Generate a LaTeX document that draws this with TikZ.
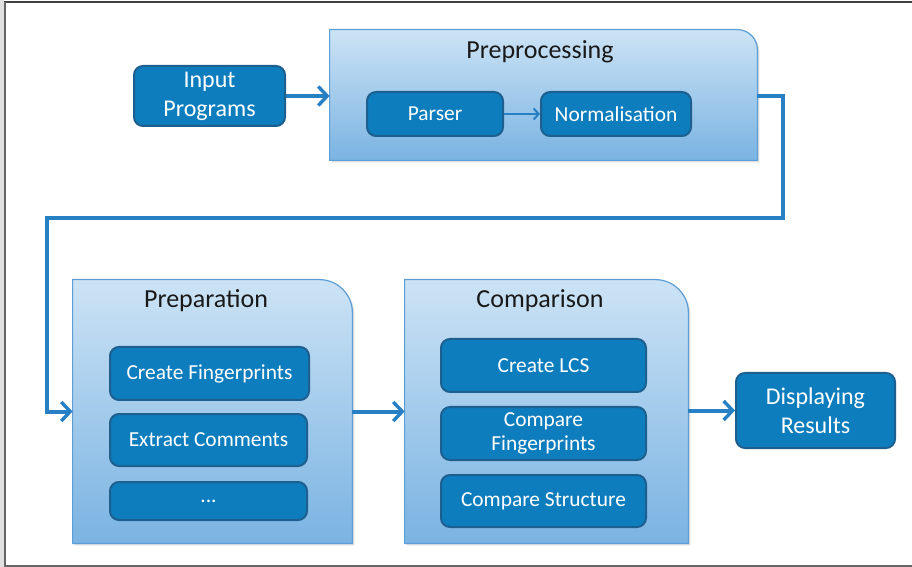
\documentclass[tikz,border=0pt]{standalone}
\usepackage{fontspec}
\setmainfont{Carlito}
\usetikzlibrary{arrows.meta,calc}

\definecolor{boxfill}{HTML}{0E7DBE}
\definecolor{boxline}{HTML}{1D5F8E}
\definecolor{paneltop}{HTML}{CCE3F5}
\definecolor{panelbot}{HTML}{7AB3E2}
\definecolor{panelline}{HTML}{5C9FD6}
\definecolor{connector}{HTML}{2780C3}

\tikzset{
  stepbox/.style={draw=boxline, line width=1pt, fill=boxfill, rounded corners=4.5pt,
    text=white, inner sep=0pt, align=center, font=\fontsize{10.7}{12.3}\selectfont},
  bigbox/.style={stepbox, font=\fontsize{12}{14.5}\selectfont},
  panel/.style={inner sep=0pt, draw=none},
  paneltitle/.style={font=\fontsize{13}{15}\selectfont, text=black!90},
  conn/.style={draw=connector, line width=2pt,
    -{Straight Barb[length=4.5pt, width=9.5pt, line width=1.7pt]}},
  thinconn/.style={draw=connector, line width=1pt,
    -{Straight Barb[length=2.5pt, width=5.5pt, line width=1pt]}},
  shadowfill/.style={fill=black, opacity=0.13},
  frameline/.style={draw=black!75, line width=1pt}
}

% panel with one rounded (top right) corner, drawn from a named node
\newcommand{\panelshape}[3]{% node, radius (px), extra options
  \fill[shadowfill] ($(#1.north west)+(2,2)$) -- ($(#1.north east)+(-#2+2,2)$)
    .. controls ($(#1.north east)+(-0.448*#2+2,2)$) and ($(#1.north east)+(2,0.448*#2+2)$)
    .. ($(#1.north east)+(2,#2+2)$) -- ($(#1.south east)+(2,2)$) -- ($(#1.south west)+(2,2)$) -- cycle;
  \shade[top color=paneltop, bottom color=panelbot, draw=panelline, line width=0.6pt, #3]
    (#1.north west) -- ($(#1.north east)+(-#2,0)$)
    .. controls ($(#1.north east)+(-0.448*#2,0)$) and ($(#1.north east)+(0,0.448*#2)$)
    .. ($(#1.north east)+(0,#2)$) -- (#1.south east) -- (#1.south west) -- cycle;
}

\begin{document}
\begin{tikzpicture}[x=0.5pt, y=-0.5pt]
  \useasboundingbox (0,0) rectangle (912,567);
  \fill[white] (0,0) rectangle (912,567);
  \fill[black!12] (0,0) rectangle (4,567);

  % frame
  \draw[frameline, line width=1.2pt] (4,2) -- (912,2);
  \draw[frameline, draw=black!60] (5,2) -- (5,566);
  \draw[frameline, draw=black!60] (4,565.5) -- (912,565.5);

  % outline nodes of the three stages
  \node[panel, minimum width=213.5pt, minimum height=65pt] (pre) at (543.5,95) {};
  \node[panel, minimum width=139.5pt, minimum height=131.5pt] (prep) at (212.5,411.5) {};
  \node[panel, minimum width=141.5pt, minimum height=131.5pt] (comp) at (546.5,411.5) {};

  \panelshape{pre}{20}{}
  \panelshape{prep}{33}{}
  \panelshape{comp}{33}{}

  \node[paneltitle] (pretitle) at (540,52) {Preprocessing};
  \node[paneltitle] (preptitle) at (206,301) {Preparation};
  \node[paneltitle] (comptitle) at (540,301) {Comparison};

  % process steps
  \node[bigbox, minimum width=75.5pt, minimum height=30pt] (in) at (209.5,96)
    {Input\\Programs};
  \node[stepbox, minimum width=68pt, minimum height=22pt] (parser) at (435,114) {Parser};
  \node[stepbox, minimum width=75pt, minimum height=22pt] (norm) at (616,114) {Normalisation};

  \node[stepbox, minimum width=99.5pt, minimum height=26.5pt] (cfp) at (209.5,373.5) {Create Fingerprints};
  \node[stepbox, minimum width=98.5pt, minimum height=26pt] (ec) at (208.5,440) {Extract Comments};
  \node[stepbox, minimum width=98.5pt, minimum height=19pt] (dots) at (208.5,501) {...};

  \node[stepbox, minimum width=102.5pt, minimum height=26.5pt] (lcs) at (543.5,365.5) {Create LCS};
  \node[stepbox, minimum width=102.5pt, minimum height=26.5pt] (cmpfp) at (543.5,433.5)
    {Compare\\Fingerprints};
  \node[stepbox, minimum width=102.5pt, minimum height=26pt] (cmps) at (543.5,501) {Compare Structure};

  \node[bigbox, minimum width=79.5pt, minimum height=37.5pt] (disp) at (815.5,410.5)
    {Displaying\\Results};

  % connectors
  \coordinate (r1) at (783,96);
  \coordinate (r2) at (783,218);
  \coordinate (l1) at (47,218);

  \draw[conn] (in.east) -- (in.east -| pre.west);
  \draw[thinconn] (parser.east) -- (norm.west);
  \draw[conn] (in.east -| pre.east) -- (r1) -- (r2) -- (l1) |- (prep.west);
  \draw[conn] (prep.east) -- (comp.west);
  \draw[conn] (disp.west -| comp.east) -- (disp.west);
\end{tikzpicture}
\end{document}
